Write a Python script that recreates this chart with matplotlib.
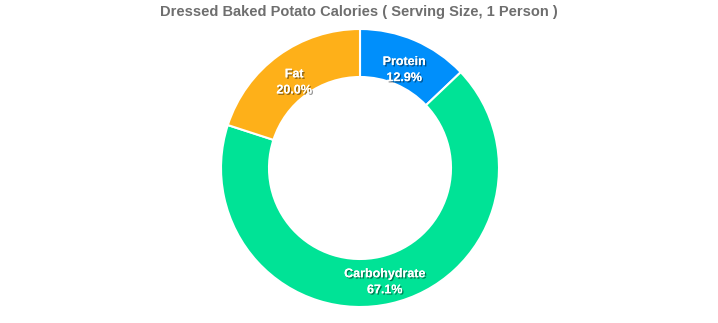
import numpy as np
import matplotlib.pyplot as plt
import matplotlib.patheffects as pe

plt.rcParams['font.family'] = ['Liberation Sans', 'DejaVu Sans']

labels = ['Protein', 'Carbohydrate', 'Fat']
values = [12.9, 67.1, 20.0]
colors = ['#008FFB', '#00E396', '#FEB019']

fig = plt.figure(figsize=(7.18, 3.23), dpi=100)
ax = fig.add_axes([0, 0, 1, 1])

cx, cy, r = 360, 323 - 168, 139
wedges, _ = ax.pie(values, colors=colors, startangle=90, counterclock=False,
                   center=(cx, cy), radius=r,
                   wedgeprops=dict(width=r - 91, edgecolor='white', linewidth=1.5))

shadow = [pe.withSimplePatchShadow(offset=(1, -1), shadow_rgbFace='black', alpha=0.45), pe.Normal()]
for w, lab, v in zip(wedges, labels, values):
    ang = np.deg2rad((w.theta1 + w.theta2) / 2)
    lr = 112
    x = cx + lr * np.cos(ang)
    y = cy + lr * np.sin(ang) - 5
    ax.text(x, y, f'{lab}\n{v:.1f}%', ha='center', va='center', color='white',
            fontsize=9, fontweight='bold', linespacing=1.45, path_effects=shadow)

ax.set_xlim(0, 718)
ax.set_ylim(0, 323)
ax.set_aspect('equal')
ax.axis('off')

fig.text(0.5, 1 - 12 / 323, 'Dressed Baked Potato Calories ( Serving Size, 1 Person )',
         ha='center', va='center', fontsize=10.5, fontweight='bold', color='#6e6e6e')

fig.savefig('out.png', dpi=100)
